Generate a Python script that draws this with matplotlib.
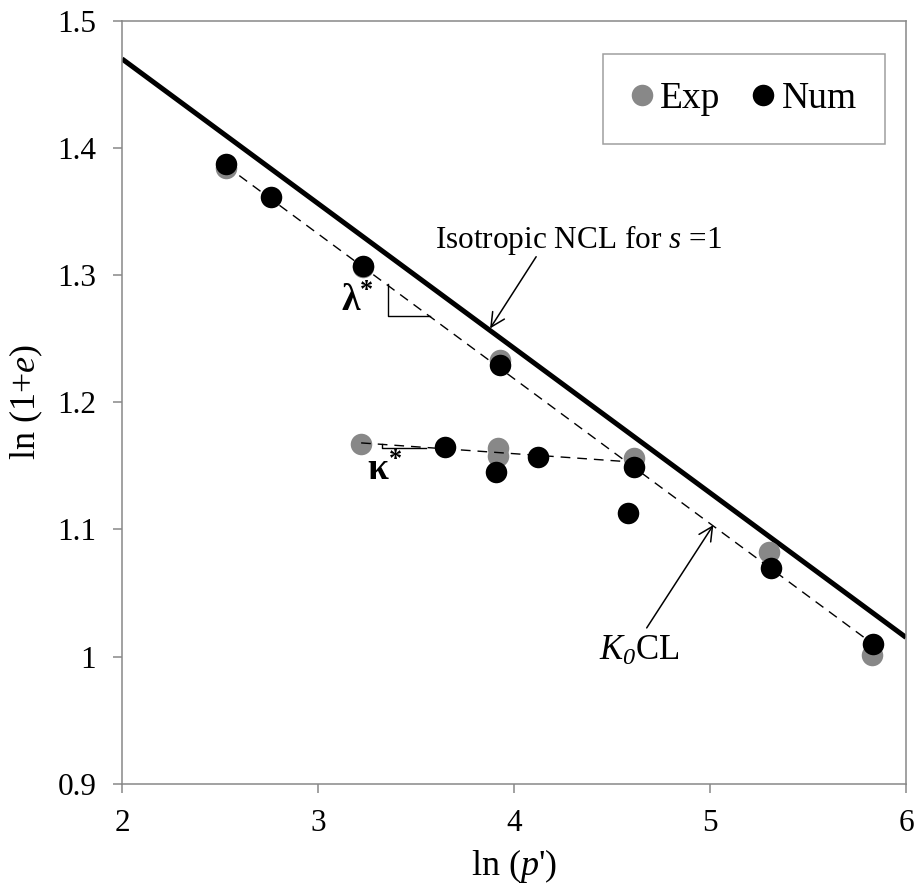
import numpy as np
import matplotlib.pyplot as plt

plt.rcParams['font.family'] = ['Liberation Serif', 'DejaVu Serif']
plt.rcParams['mathtext.fontset'] = 'custom'
plt.rcParams['mathtext.rm'] = 'Liberation Serif'
plt.rcParams['mathtext.it'] = 'Liberation Serif:italic'
plt.rcParams['mathtext.bf'] = 'Liberation Serif:bold'
plt.rcParams['mathtext.sf'] = 'Liberation Serif:italic'

# experimental points
exp_x = [2.53, 3.23, 3.93, 4.61, 5.30, 5.825, 3.22, 3.92, 3.92]
exp_y = [1.384, 1.306, 1.233, 1.156, 1.0825, 1.001, 1.167, 1.164, 1.158]

# numerical points
num_x = [2.53, 2.76, 3.23, 3.93, 4.61, 5.31, 5.83, 3.65, 3.91, 4.12, 4.58]
num_y = [1.387, 1.361, 1.307, 1.229, 1.149, 1.070, 1.010, 1.165, 1.145, 1.157, 1.113]

# isotropic NCL (s = 1)
ncl_x = [2.0, 6.0]
ncl_y = [1.47, 1.015]

# K0 compression line and unloading line
k0_x = [2.53, 5.83]
k0_y = [1.386, 1.010]
unl_x = [3.22, 4.60]
unl_y = [1.168, 1.153]

fig = plt.figure(figsize=(9.2, 8.93), dpi=100)
ax = fig.add_axes([0.1326, 0.1224, 0.8522, 0.8544])

ax.plot(exp_x, exp_y, 'o', color='#888888', ms=15.5, mec='none', label='Exp', zorder=3)
ax.plot(num_x, num_y, 'o', color='black', ms=15.5, mec='none', label='Num', zorder=4)

ax.plot(ncl_x, ncl_y, color='black', lw=3.6, solid_capstyle='butt', zorder=2)
ax.plot(k0_x, k0_y, color='black', lw=1.0, dashes=(7, 5), zorder=5)
ax.plot(unl_x, unl_y, color='black', lw=1.0, dashes=(7, 5), zorder=5)

# slope triangles
ax.plot([3.356, 3.356, 3.571], [1.293, 1.268, 1.268], color='black', lw=1.0, zorder=5)
ax.plot([3.325, 3.325, 3.55], [1.1672, 1.1638, 1.1638], color='black', lw=1.0, zorder=5)
ax.text(3.20, 1.279, r'$\mathbf{λ}^{\mathbf{*}}$', fontsize=27, ha='center', va='center')
ax.text(3.34, 1.146, r'$\mathbf{κ}^{\mathbf{*}}$', fontsize=27, ha='center', va='center')

arrow = dict(arrowstyle='->', lw=1.1, color='black', mutation_scale=25, shrinkA=0, shrinkB=0)
ax.text(4.327, 1.3275, 'Isotropic NCL for $s$ =1', fontsize=22.5, ha='center', va='center')
ax.annotate('', xy=(3.878, 1.258), xytext=(4.113, 1.3144), arrowprops=arrow)
ax.text(4.64, 1.004, r'$\mathit{K}_{\mathsf{0}}$CL', fontsize=25, ha='center', va='center')
ax.annotate('', xy=(5.017, 1.1034), xytext=(4.677, 1.0225), arrowprops=arrow)

ax.set_xlim(2, 6)
ax.set_ylim(0.9, 1.5)
ax.set_xticks([2, 3, 4, 5, 6])
ax.set_yticks([0.9, 1.0, 1.1, 1.2, 1.3, 1.4, 1.5])
ax.set_yticklabels(['0.9', '1', '1.1', '1.2', '1.3', '1.4', '1.5'])
ax.tick_params(direction='out', length=6.5, width=1.1, color='#888888',
               labelsize=22.5, pad=12)
for sp in ax.spines.values():
    sp.set_color('#888888')
    sp.set_linewidth(1.1)

ax.set_xlabel("ln ($p$')", fontsize=26, labelpad=6)
ax.set_ylabel('ln (1+$e$)', fontsize=26, labelpad=9)

leg = ax.legend(loc='center', bbox_to_anchor=(743.8 / 920, 1 - 99 / 893),
                bbox_transform=fig.transFigure, ncol=2, fontsize=27,
                frameon=True, fancybox=False, borderpad=0.75, handlelength=0.59,
                handletextpad=0.19, columnspacing=0.85, markerscale=1.0)
leg.get_frame().set_edgecolor('#888888')
leg.get_frame().set_linewidth(1.1)

fig.savefig('out.png', dpi=100)
